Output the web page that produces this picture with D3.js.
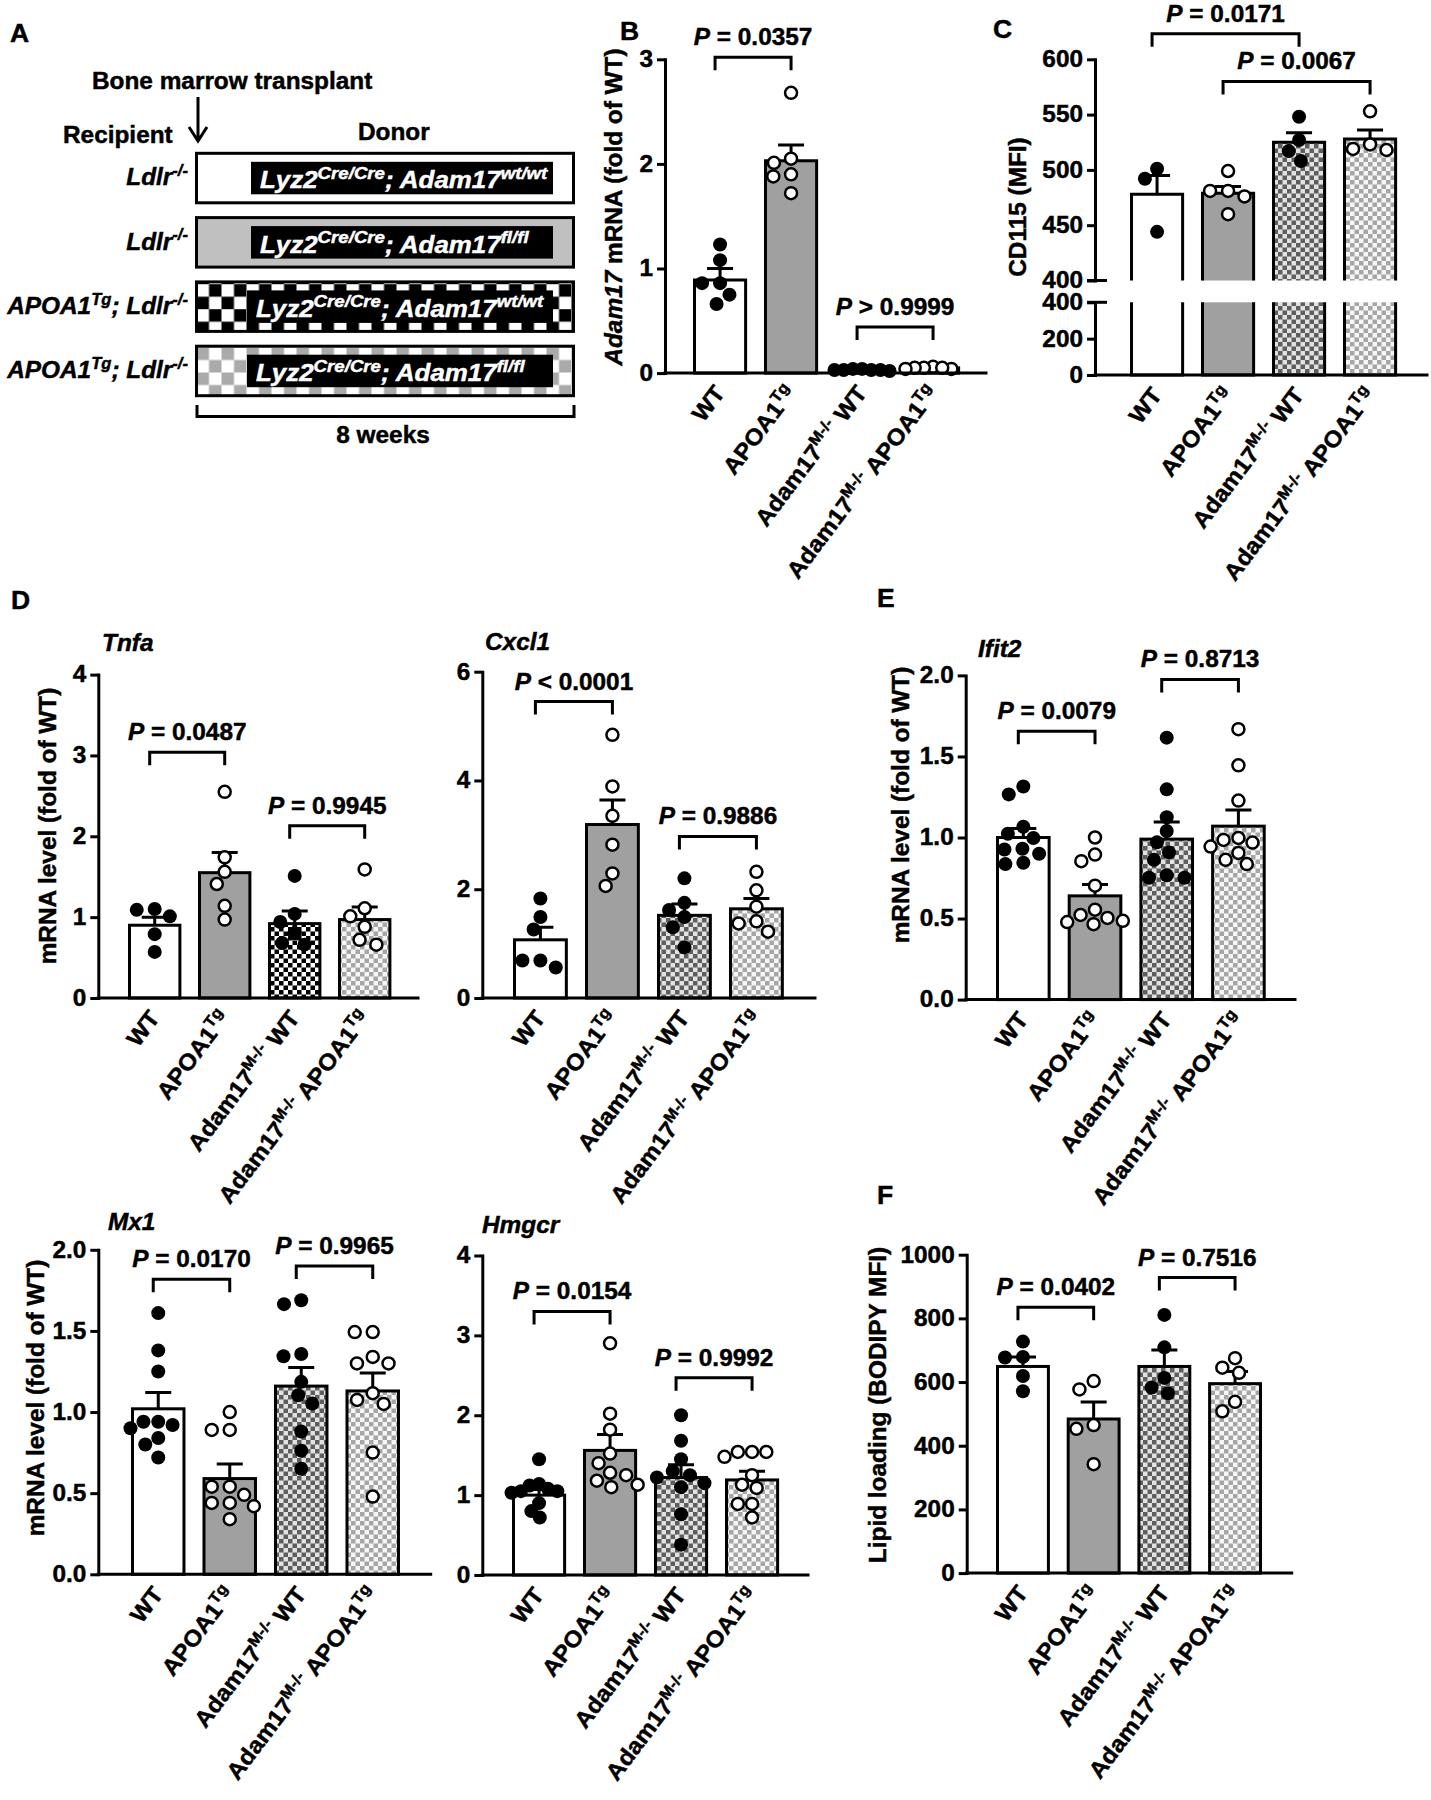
<!DOCTYPE html>
<html>
<head>
<meta charset="utf-8">
<script src="https://cdn.jsdelivr.net/npm/d3@7"></script>
<style>
html,body{margin:0;padding:0;background:#fff;}
svg{display:block;}
text{font-family:"Liberation Sans",Arial,Helvetica,sans-serif;white-space:pre;}
</style>
</head>
<body>
<svg id="fig" width="1431" height="1800" xmlns="http://www.w3.org/2000/svg"></svg>
<script>
// ================= DATA =================
const groups = ["WT", "APOA1^{Tg}", "Adam17^{M-/-} WT", "Adam17^{M-/-} APOA1^{Tg}"];

// Panel A (schematic)
const recipients = ["*Ldlr^{-/-}*", "*Ldlr^{-/-}*", "*APOA1^{Tg}; Ldlr^{-/-}*", "*APOA1^{Tg}; Ldlr^{-/-}*"];
const donors = ["*Lyz2^{Cre/Cre}; Adam17^{wt/wt}*", "*Lyz2^{Cre/Cre}; Adam17^{fl/fl}*",
                "*Lyz2^{Cre/Cre}; Adam17^{wt/wt}*", "*Lyz2^{Cre/Cre}; Adam17^{fl/fl}*"];

// Panel B: Adam17 mRNA
const adam17Mean = [0.89, 2.03, 0.03, 0.05];
const adam17Sem = [0.11, 0.15, 0.005, 0.005];
const adam17Points = [[1.23, 1.08, 0.86, 0.86, 0.75, 0.66], [2.68, 2.05, 2.01, 1.90, 1.88, 1.72],
                      [0.03, 0.04, 0.03, 0.02, 0.03, 0.04, 0.03], [0.04, 0.06, 0.05, 0.05, 0.05, 0.04]];
const adam17Ticks = [0, 1, 2, 3];
const adam17Pairs = [[0, 1], [2, 3]];
const adam17PText = ["*P* = 0.0357", "*P* > 0.9999"];
const adam17PLevel = [3.02, 0.44];

// Panel C: CD115
const cd115Mean = [478, 479, 525, 528];
const cd115Sem = [17, 6, 8.6, 8];
const cd115Points = [[501, 492, 444], [499, 481, 481, 476, 460], [548, 527, 517, 508], [553, 523, 518, 519]];
const cd115TicksUpper = [400, 450, 500, 550, 600];
const cd115TicksLower = [0, 200, 400];
const cd115Pairs = [[0, 2], [1, 3]];
const cd115PText = ["*P* = 0.0171", "*P* = 0.0067"];
const cd115PLevel = [623, 580];

// Panel D: Tnfa
const tnfaMean = [0.90, 1.55, 0.92, 0.97];
const tnfaSem = [0.10, 0.25, 0.155, 0.155];
const tnfaPoints = [[1.09, 1.10, 1.01, 0.79, 0.57], [2.55, 1.74, 1.56, 1.41, 1.14, 0.97],
                    [1.51, 1.04, 0.94, 0.80, 0.68, 0.66], [1.59, 1.11, 1.01, 0.88, 0.72, 0.66]];
const tnfaTicks = [0, 1, 2, 3, 4];
const tnfaPairs = [[0, 1], [2, 3]];
const tnfaPText = ["*P* = 0.0487", "*P* = 0.9945"];
const tnfaPLevel = [3.04, 2.13];

// Panel D: Cxcl1
const cxcl1Mean = [1.07, 3.19, 1.52, 1.64];
const cxcl1Sem = [0.23, 0.45, 0.21, 0.19];
const cxcl1Points = [[1.83, 1.49, 1.26, 0.56, 0.69, 0.69], [4.84, 3.89, 3.35, 2.82, 2.29, 2.06],
                     [2.20, 1.75, 1.62, 1.49, 1.30, 0.93], [2.32, 1.98, 1.68, 1.41, 1.37, 1.22]];
const cxcl1Ticks = [0, 2, 4, 6];
const cxcl1Pairs = [[0, 1], [2, 3]];
const cxcl1PText = ["*P* < 0.0001", "*P* = 0.9886"];
const cxcl1PLevel = [5.45, 2.97];

// Panel E: Ifit2
const ifit2Mean = [1.00, 0.64, 0.99, 1.07];
const ifit2Sem = [0.055, 0.07, 0.105, 0.10];
const ifit2Points = [[1.315, 1.266, 1.066, 1.023, 0.997, 0.931, 0.90, 0.926, 0.836, 0.844],
                     [1.00, 0.895, 0.854, 0.703, 0.555, 0.522, 0.478, 0.486, 0.504, 0.465],
                     [1.616, 1.297, 1.125, 1.04, 0.97, 0.908, 0.862, 0.767, 0.752, 0.752],
                     [1.668, 1.445, 1.228, 0.969, 0.997, 0.944, 0.985, 0.905, 0.836, 0.862]];
const ifit2Ticks = [0, 0.5, 1.0, 1.5, 2.0];
const ifit2Pairs = [[0, 1], [2, 3]];
const ifit2PText = ["*P* = 0.0079", "*P* = 0.8713"];
const ifit2PLevel = [1.655, 1.975];

// Panel D: Mx1
const mx1Mean = [1.02, 0.59, 1.16, 1.13];
const mx1Sem = [0.10, 0.09, 0.115, 0.11];
const mx1Points = [[1.61, 1.38, 1.25, 0.94, 0.94, 0.92, 0.90, 0.84, 0.80, 0.72],
                   [1.00, 0.89, 0.89, 0.54, 0.54, 0.49, 0.44, 0.42, 0.44, 0.34],
                   [1.665, 1.689, 1.344, 1.358, 1.186, 1.104, 1.052, 0.88, 0.762, 0.651],
                   [1.493, 1.493, 1.30, 1.34, 1.30, 1.116, 1.05, 1.075, 0.75, 0.479]];
const mx1Ticks = [0, 0.5, 1.0, 1.5, 2.0];
const mx1Pairs = [[0, 1], [2, 3]];
const mx1PText = ["*P* = 0.0170", "*P* = 0.9965"];
const mx1PLevel = [1.818, 1.90];

// Panel D: Hmgcr
const hmgcrMean = [1.00, 1.56, 1.22, 1.19];
const hmgcrSem = [0.07, 0.20, 0.16, 0.11];
const hmgcrPoints = [[1.45, 1.14, 1.12, 1.08, 1.05, 1.05, 1.03, 0.90, 0.80, 0.72],
                     [2.90, 2.02, 1.82, 1.52, 1.40, 1.28, 1.25, 1.13, 1.10, 1.18],
                     [2.00, 1.68, 1.45, 1.30, 1.25, 1.22, 1.15, 1.10, 0.76, 0.38],
                     [1.54, 1.48, 1.54, 1.54, 1.25, 1.13, 1.09, 0.89, 0.89, 0.72]];
const hmgcrTicks = [0, 1, 2, 3, 4];
const hmgcrPairs = [[0, 1], [2, 3]];
const hmgcrPText = ["*P* = 0.0154", "*P* = 0.9992"];
const hmgcrPLevel = [3.30, 2.47];

// Panel F: Lipid loading
const lipidMean = [649, 484, 649, 595];
const lipidSem = [30, 53, 52, 38];
const lipidPoints = [[727, 677, 679, 619, 571], [603, 577, 465, 453, 342],
                     [811, 709, 613, 583, 565], [675, 645, 629, 538, 508]];
const lipidTicks = [0, 200, 400, 600, 800, 1000];
const lipidPairs = [[0, 1], [2, 3]];
const lipidPText = ["*P* = 0.0402", "*P* = 0.7516"];
const lipidPLevel = [835, 928];

// ================= DRAWING =================
const SX = 1.06;           // horizontal text stretch of the original figure
const FS = 23;             // base font size
const TSTROKE = 0.45;      // slight glyph thickening (heavier bold of the original)
const svg = d3.select('#fig');
const defs = svg.append('defs');

function checker(id, c1, c2, size, ox, oy) {
  const p = defs.append('pattern').attr('id', id).attr('patternUnits', 'userSpaceOnUse')
    .attr('width', size * 2).attr('height', size * 2).attr('x', ox || 0).attr('y', oy || 0);
  p.append('rect').attr('width', size * 2).attr('height', size * 2).attr('fill', c2);
  p.append('rect').attr('width', size).attr('height', size).attr('fill', c1);
  p.append('rect').attr('x', size).attr('y', size).attr('width', size).attr('height', size).attr('fill', c1);
}
checker('pDarkBW', '#000', '#fff', 4.5);
checker('pDark', '#5e5e5e', '#e2e2e2', 4.5);
checker('pLight', '#a6a6a6', '#f6f6f6', 4.5);
checker('pBigDark', '#fff', '#000', 12.5, 196.5, 284.2);
checker('pBigLight', '#aaaaaa', '#fff', 12.5, 196.5, 347.5);

function parseRich(s) {
  const parts = []; let cur = ''; let ital = false; let sup = false;
  const push = () => { if (cur) { parts.push({t: cur, i: ital, sup: sup}); cur = ''; } };
  for (let k = 0; k < s.length; k++) {
    const ch = s[k];
    if (ch === '*') { push(); ital = !ital; }
    else if (ch === '^' && s[k + 1] === '{') { push(); sup = true; k++; }
    else if (ch === '}' && sup) { push(); sup = false; }
    else cur += ch;
  }
  push();
  return parts;
}

function rich(g, x, y, s, o) {
  o = o || {};
  const size = o.size || FS;
  const sx = o.sx || SX;
  const col = o.fill || '#000';
  const t = g.append('text')
    .attr('transform', `translate(${x},${y}) rotate(${o.rotate || 0}) scale(${sx},1)`)
    .attr('text-anchor', o.anchor || 'start')
    .attr('font-size', size)
    .attr('font-weight', o.weight || 'bold')
    .attr('fill', col).attr('stroke', col).attr('stroke-width', TSTROKE);
  let shifted = 0;
  parseRich(s).forEach(p => {
    const ts = t.append('tspan').text(p.t);
    if (p.i) ts.attr('font-style', 'italic');
    const target = p.sup ? -size * 0.4 : 0;
    if (target !== shifted) { ts.attr('dy', target - shifted); shifted = target; }
    if (p.sup) ts.attr('font-size', size * (o.supScale || 0.68));
  });
  return t;
}

// anisotropic beeswarm: horizontal step Dx, vertical collision Dy
function swarm(vals, yf, Dx, Dy, maxHalf) {
  const placed = [];
  const out = new Array(vals.length);
  const order = vals.map((v, i) => i).sort((a, b) => vals[b] - vals[a]);
  const clash = (p, cx, py) => ((p.x - cx) / Dx) ** 2 + ((p.y - py) / Dy) ** 2 < 0.999;
  order.forEach(i => {
    const py = yf(vals[i]);
    const cands = [0];
    placed.forEach(p => {
      const dy = Math.abs(p.y - py);
      if (dy < Dy) { const dx = Dx * Math.sqrt(1 - (dy / Dy) ** 2); cands.push(p.x + dx, p.x - dx); }
    });
    cands.sort((a, b) => (Math.abs(a) - Math.abs(b)) || (a - b));
    const ok = cands.find(cx => placed.every(p => !clash(p, cx, py)));
    const pt = {x: ok, y: py};
    placed.push(pt); out[i] = pt;
  });
  const m = d3.max(out, p => Math.abs(p.x));
  if (m > maxHalf) out.forEach(p => p.x *= maxHalf / m);
  return out;
}

const LW = 3;

function drawChart(cfg) {
  const g = svg.append('g');
  const pI = 0.28, pO = 0.14;
  const start = cfg.barLeft + 1.5 - pO * cfg.step;
  const x = d3.scaleBand().domain(groups).range([start, start + 4 * cfg.step]).paddingInner(pI).paddingOuter(pO);
  const bw = x.bandwidth();
  const cx = i => x(groups[i]) + bw / 2;

  let yv, yUp, yLow, y;
  if (cfg.broken) {
    yUp = d3.scaleLinear().domain([400, 600]).range([cfg.breakTop, cfg.yTop]);
    yLow = d3.scaleLinear().domain([0, 400]).range([cfg.y0, cfg.breakBottom]);
    yv = v => (v >= 400 ? yUp(v) : yLow(v));
  } else {
    y = d3.scaleLinear().domain([0, cfg.max]).range([cfg.y0, cfg.yTop]);
    yv = y;
  }
  const fills = ['#fff', '#a0a0a0', `url(#${cfg.dark})`, 'url(#pLight)'];

  // bars
  cfg.mean.forEach((m, i) => {
    const x0 = x(groups[i]), x1 = x0 + bw;
    const top = yv(m);
    if (cfg.broken) {
      g.append('rect').attr('x', x0).attr('y', top).attr('width', bw).attr('height', cfg.breakTop - top).attr('fill', fills[i]);
      g.append('path').attr('d', `M${x0},${cfg.breakTop}V${top}H${x1}V${cfg.breakTop}`)
        .attr('fill', 'none').attr('stroke', '#000').attr('stroke-width', LW);
      g.append('rect').attr('x', x0).attr('y', cfg.breakBottom).attr('width', bw).attr('height', cfg.y0 - cfg.breakBottom).attr('fill', fills[i]);
      g.append('path').attr('d', `M${x0},${cfg.breakBottom}V${cfg.y0}H${x1}V${cfg.breakBottom}`)
        .attr('fill', 'none').attr('stroke', '#000').attr('stroke-width', LW);
    } else {
      g.append('rect').attr('x', x0).attr('y', top).attr('width', bw).attr('height', Math.max(0, cfg.y0 - top))
        .attr('fill', fills[i]).attr('stroke', '#000').attr('stroke-width', LW);
    }
  });

  // error bars (SEM, upward)
  cfg.mean.forEach((m, i) => {
    const c = cx(i), yt = yv(m + cfg.sem[i]), ym = yv(m);
    g.append('path').attr('d', `M${c},${ym}V${yt}M${c - 13},${yt}H${c + 13}`)
      .attr('fill', 'none').attr('stroke', '#000').attr('stroke-width', LW);
  });

  // points
  cfg.points.forEach((vals, i) => {
    const filled = (i % 2 === 0);
    const pos = swarm(vals, yv, 18, 13.5, bw / 2 + 2);
    pos.forEach(p => {
      g.append('circle').attr('cx', cx(i) + p.x).attr('cy', p.y)
        .attr('r', filled ? 7 : 6)
        .attr('fill', filled ? '#000' : '#fff')
        .attr('stroke', '#000').attr('stroke-width', filled ? 0 : 2.5);
    });
  });

  // axes
  const styleAxis = (ax) => {
    ax.attr('font-size', null).attr('font-family', null);
    ax.select('.domain').attr('stroke-width', LW).attr('stroke-linecap', 'square');
    ax.selectAll('.tick line').attr('stroke-width', LW);
    ax.selectAll('.tick text').attr('x', null)
      .attr('transform', `translate(-12,0) scale(${SX},1)`)
      .attr('font-size', FS).attr('font-weight', 'bold').attr('fill', '#000')
      .attr('stroke', '#000').attr('stroke-width', TSTROKE);
  };
  if (cfg.broken) {
    const a1 = g.append('g').attr('transform', `translate(${cfg.axisX},0)`)
      .call(d3.axisLeft(yUp).tickValues(cfg.ticksUpper).tickSize(8).tickSizeOuter(0).tickPadding(4).tickFormat(d3.format('d')));
    styleAxis(a1);
    const a2 = g.append('g').attr('transform', `translate(${cfg.axisX},0)`)
      .call(d3.axisLeft(yLow).tickValues(cfg.ticksLower).tickSize(8).tickSizeOuter(0).tickPadding(4).tickFormat(d3.format('d')));
    styleAxis(a2);
    [cfg.breakTop, cfg.breakBottom].forEach(yy => {
      g.append('line').attr('x1', cfg.axisX - 8).attr('x2', cfg.axisX + 12).attr('y1', yy).attr('y2', yy)
        .attr('stroke', '#000').attr('stroke-width', LW);
    });
  } else {
    const a = g.append('g').attr('transform', `translate(${cfg.axisX},0)`)
      .call(d3.axisLeft(y).tickValues(cfg.ticks).tickSize(8).tickSizeOuter(0).tickPadding(4).tickFormat(cfg.fmt || d3.format('d')));
    styleAxis(a);
  }
  g.append('line').attr('x1', cfg.axisX).attr('x2', cfg.axisEnd).attr('y1', cfg.y0).attr('y2', cfg.y0)
    .attr('stroke', '#000').attr('stroke-width', LW).attr('stroke-linecap', 'square');

  // category labels
  groups.forEach((lab, i) => {
    rich(g, cx(i) + 6, cfg.y0 + 20, lab, {anchor: 'end', rotate: -53, size: 23});
  });

  // significance brackets
  cfg.pairs.forEach((pr, k) => {
    const x1 = cx(pr[0]) - 5, x2 = cx(pr[1]);
    const yb = yv(cfg.pLevel[k]);
    g.append('path').attr('d', `M${x1},${yb + 13}V${yb}H${x2}V${yb + 13}`)
      .attr('fill', 'none').attr('stroke', '#000').attr('stroke-width', LW);
    rich(g, (x1 + x2) / 2, yb - 12, cfg.pText[k], {anchor: 'middle', size: FS});
  });

  if (cfg.ylabel) rich(g, cfg.ylabelX, cfg.ylabelY, cfg.ylabel, {anchor: 'middle', rotate: -90, size: FS});
  if (cfg.title) rich(g, cfg.titleX, cfg.titleY, cfg.title, {size: FS});
}

// ---- Panel A ----
(function panelA() {
  const g = svg.append('g');
  rich(g, 92, 89, 'Bone marrow transplant', {size: FS});
  g.append('path').attr('d', 'M198,97V140M189,127L198,141L207,127').attr('fill', 'none')
    .attr('stroke', '#000').attr('stroke-width', LW);
  rich(g, 63, 143, 'Recipient', {size: FS});
  rich(g, 358, 140, 'Donor', {size: FS});
  const boxFill = ['#fff', '#c0c0c0', 'url(#pBigDark)', 'url(#pBigLight)'];
  recipients.forEach((r, i) => {
    const top = 153.3 + i * 64.3;
    g.append('rect').attr('x', 196.5).attr('y', top).attr('width', 377).attr('height', 49.5)
      .attr('fill', boxFill[i]).attr('stroke', '#000').attr('stroke-width', LW);
    const ix = i < 2 ? 251 : 247;
    g.append('rect').attr('x', ix).attr('y', top + 8.5).attr('width', 553 - ix).attr('height', 32.5).attr('fill', '#000');
    rich(g, ix + 9, top + 35, donors[i], {size: 24, sx: 1.08, supScale: 0.72, fill: '#fff'});
    rich(g, 188, top + 32, r, {anchor: 'end', size: FS});
  });
  g.append('path').attr('d', 'M197,405V416.5H574V405').attr('fill', 'none').attr('stroke', '#000').attr('stroke-width', LW);
  rich(g, 383, 443, '8 weeks', {anchor: 'middle', size: FS});
})();

// ---- panel letters ----
[['A', 10, 42], ['B', 620, 40], ['C', 993, 38], ['D', 11, 609], ['E', 877, 607], ['F', 877, 1204]]
  .forEach(d => rich(svg, d[1], d[2], d[0], {size: 25}));

// ---- charts ----
drawChart({axisX: 665, axisEnd: 986, y0: 373.1, yTop: 59.3, max: 3, barLeft: 693, step: 71,
  ticks: adam17Ticks, mean: adam17Mean, sem: adam17Sem, points: adam17Points,
  pairs: adam17Pairs, pText: adam17PText, pLevel: adam17PLevel, dark: 'pDark',
  ylabel: '*Adam17* mRNA (fold of WT)', ylabelX: 622, ylabelY: 207});

drawChart({broken: true, axisX: 1095, axisEnd: 1427, y0: 375, yTop: 59.3, breakTop: 280.5, breakBottom: 302.3,
  barLeft: 1130, step: 71, ticksUpper: cd115TicksUpper, ticksLower: cd115TicksLower,
  mean: cd115Mean, sem: cd115Sem, points: cd115Points,
  pairs: cd115Pairs, pText: cd115PText, pLevel: cd115PLevel, dark: 'pDark',
  ylabel: 'CD115 (MFI)', ylabelX: 1026, ylabelY: 207});

drawChart({axisX: 98.3, axisEnd: 418, y0: 998, yTop: 674.6, max: 4, barLeft: 128, step: 70,
  ticks: tnfaTicks, mean: tnfaMean, sem: tnfaSem, points: tnfaPoints,
  pairs: tnfaPairs, pText: tnfaPText, pLevel: tnfaPLevel, dark: 'pDarkBW',
  ylabel: 'mRNA level (fold of WT)', ylabelX: 56, ylabelY: 826, title: '*Tnfa*', titleX: 102, titleY: 651});

drawChart({axisX: 482.3, axisEnd: 815, y0: 998, yTop: 671.7, max: 6, barLeft: 513, step: 72,
  ticks: cxcl1Ticks, mean: cxcl1Mean, sem: cxcl1Sem, points: cxcl1Points,
  pairs: cxcl1Pairs, pText: cxcl1PText, pLevel: cxcl1PLevel, dark: 'pDark',
  title: '*Cxcl1*', titleX: 485, titleY: 650});

drawChart({axisX: 965.7, axisEnd: 1295, y0: 999.6, yTop: 675.4, max: 2, barLeft: 996, step: 71.7,
  ticks: ifit2Ticks, fmt: d3.format('.1f'), mean: ifit2Mean, sem: ifit2Sem, points: ifit2Points,
  pairs: ifit2Pairs, pText: ifit2PText, pLevel: ifit2PLevel, dark: 'pDark',
  ylabel: 'mRNA level (fold of WT)', ylabelX: 909, ylabelY: 805, title: '*Ifit2*', titleX: 978, titleY: 657});

drawChart({axisX: 98.3, axisEnd: 430.7, y0: 1574.3, yTop: 1249.8, max: 2, barLeft: 131, step: 71.5,
  ticks: mx1Ticks, fmt: d3.format('.1f'), mean: mx1Mean, sem: mx1Sem, points: mx1Points,
  pairs: mx1Pairs, pText: mx1PText, pLevel: mx1PLevel, dark: 'pDark',
  ylabel: 'mRNA level (fold of WT)', ylabelX: 44, ylabelY: 1398, title: '*Mx1*', titleX: 108, titleY: 1230});

drawChart({axisX: 482.3, axisEnd: 808, y0: 1575, yTop: 1255.5, max: 4, barLeft: 512, step: 71,
  ticks: hmgcrTicks, mean: hmgcrMean, sem: hmgcrSem, points: hmgcrPoints,
  pairs: hmgcrPairs, pText: hmgcrPText, pLevel: hmgcrPLevel, dark: 'pDark',
  title: '*Hmgcr*', titleX: 482, titleY: 1233});

drawChart({axisX: 966.7, axisEnd: 1291.7, y0: 1573.1, yTop: 1254.7, max: 1000, barLeft: 996, step: 70.7,
  ticks: lipidTicks, mean: lipidMean, sem: lipidSem, points: lipidPoints,
  pairs: lipidPairs, pText: lipidPText, pLevel: lipidPLevel, dark: 'pDark',
  ylabel: 'Lipid loading (BODIPY MFI)', ylabelX: 886, ylabelY: 1405});
</script>
</body>
</html>
